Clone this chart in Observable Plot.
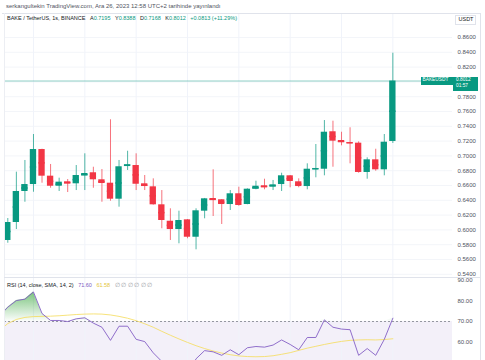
<!DOCTYPE html>
<html><head><meta charset="utf-8">
<script src="https://cdn.jsdelivr.net/npm/d3@7"></script>
<script src="https://cdn.jsdelivr.net/npm/@observablehq/plot@0.6"></script>
<style>
html,body{margin:0;padding:0;background:#fff;width:485px;height:360px;overflow:hidden;font-family:"Liberation Sans",Arial,sans-serif;}
#root{position:relative;width:485px;height:360px;overflow:hidden;}
.t{position:absolute;white-space:nowrap;line-height:1;}
.pane{position:absolute;left:0;}
.row{position:absolute;white-space:nowrap;line-height:1;display:flex;}
.row span{margin-right:4.5px;}
</style></head><body><div id="root"></div>
<script>
// ---- data ----
const opens  = [0.5857,0.6100,0.6519,0.6613,0.7086,0.6726,0.6590,0.6650,0.6623,0.6731,0.6772,0.6677,0.6631,0.6415,0.6866,0.6870,0.6623,0.6582,0.6339,0.6117,0.6005,0.6136,0.5901,0.6253,0.6424,0.6407,0.6343,0.6488,0.6343,0.6550,0.6596,0.6582,0.6613,0.6731,0.6650,0.6586,0.6820,0.6820,0.7326,0.7208,0.7181,0.7172,0.6776,0.6947,0.6812,0.7195];
const highs  = [0.6154,0.6780,0.6938,0.7289,0.7090,0.6884,0.6699,0.6681,0.6870,0.7028,0.6847,0.6816,0.7488,0.6938,0.7063,0.7028,0.6735,0.6690,0.6532,0.6285,0.6253,0.6140,0.6285,0.6425,0.6812,0.6410,0.6532,0.6577,0.6555,0.6658,0.6685,0.6668,0.6766,0.6735,0.6690,0.6893,0.7154,0.7478,0.7469,0.7320,0.7380,0.7190,0.6974,0.7090,0.7289,0.8388];
const lows   = [0.5820,0.6005,0.6374,0.6509,0.6631,0.6563,0.6519,0.6505,0.6532,0.6532,0.6563,0.6374,0.6388,0.6307,0.6803,0.6532,0.6532,0.6335,0.6015,0.5857,0.5812,0.5880,0.5731,0.6150,0.6181,0.6073,0.6262,0.6320,0.6340,0.6542,0.6542,0.6532,0.6519,0.6569,0.6569,0.6542,0.6704,0.6731,0.6847,0.7136,0.6893,0.6766,0.6685,0.6793,0.6731,0.7168];
const closes = [0.6100,0.6519,0.6613,0.7086,0.6726,0.6590,0.6645,0.6623,0.6735,0.6762,0.6677,0.6627,0.6415,0.6853,0.6880,0.6617,0.6586,0.6339,0.6127,0.6005,0.6127,0.5901,0.6258,0.6420,0.6401,0.6343,0.6488,0.6330,0.6550,0.6590,0.6573,0.6609,0.6731,0.6654,0.6586,0.6820,0.6830,0.7320,0.7199,0.7181,0.7172,0.6776,0.6947,0.6812,0.7185,0.8012];
// RSI values: first entry belongs to the bar just before the visible window
const rsiValues = [72.5,77.0,80.2,80.9,84.4,73.9,70.5,70.5,70.0,71.3,71.8,69.2,67.2,60.8,67.7,67.7,61.3,60.2,54.7,50.5,46.5,48.0,43.5,51.8,55.8,55.2,53.5,56.2,53.8,57.2,57.8,57.5,58.5,61.0,58.8,56.2,62.2,62.2,70.8,67.2,66.3,66.0,53.5,56.8,53.5,61.3,71.6];
const rsiMAValues = [65.5,69.0,71.0,72.0,72.4,72.5,72.6,72.8,73.1,73.4,73.6,73.7,73.6,73.2,72.5,71.6,70.4,68.9,67.2,65.2,63.3,61.5,59.8,58.2,56.8,55.6,54.6,53.8,53.2,52.9,52.8,52.9,53.3,54.0,54.8,55.9,57.0,57.9,58.8,59.6,60.3,60.8,61.0,61.1,61.0,61.2,61.58];
const priceTicks = [0.54,0.56,0.58,0.60,0.62,0.64,0.66,0.68,0.70,0.72,0.74,0.76,0.78,0.80,0.82,0.84,0.86];
// 0.8000 is hidden behind the last-price tag in the reference
const priceTickLabels = [0.54,0.56,0.58,0.60,0.62,0.64,0.66,0.68,0.70,0.72,0.74,0.76,0.78,0.82,0.84,0.86];
const rsiTicks = [50,60,70,80,90];
const gridBars = [3,9,15,21,27,33,39,45];

const GREEN = "#089981", RED = "#f23645", PURPLE = "#7e57c2", YELLOW = "#f5dc5a";
const FONT = "Liberation Sans, Arial, sans-serif";
const root = document.getElementById("root");

function txt(s, left, top, size, color) {
  const d = document.createElement("div");
  d.className = "t";
  d.textContent = s;
  d.style.left = left + "px"; d.style.top = top + "px";
  d.style.fontSize = size + "px"; d.style.color = color;
  root.appendChild(d);
  return d;
}
function row(parts, left, top, size) {
  const d = document.createElement("div");
  d.className = "row";
  d.style.left = left + "px"; d.style.top = top + "px"; d.style.fontSize = size + "px";
  parts.forEach(p => {
    const s = document.createElement("span");
    p.forEach(([t, c]) => {
      const q = document.createElement("span");
      q.style.marginRight = "0";
      q.textContent = t; q.style.color = c;
      s.appendChild(q);
    });
    d.appendChild(s);
  });
  root.appendChild(d);
  return d;
}
function box(left, top, w, h, bg, border) {
  const d = document.createElement("div");
  d.style.position = "absolute";
  d.style.left = left + "px"; d.style.top = top + "px";
  d.style.width = w + "px"; d.style.height = h + "px";
  d.style.background = bg;
  if (border) d.style.border = border;
  d.style.boxSizing = "border-box";
  root.appendChild(d);
  return d;
}

const candles = opens.map((o, i) => ({i, o, h: highs[i], l: lows[i], c: closes[i], col: closes[i] >= o ? GREEN : RED}));
const rsiData = rsiValues.map((v, k) => ({i: k - 1, v, ma: rsiMAValues[k]}));
const lastClose = closes[closes.length - 1];

const xScale = {domain: [-0.386, 51.97], range: [4, 452], axis: null};
const HW = 0.37;

// ---- price pane ----
const priceChart = Plot.plot({
  width: 485, height: 264,
  marginLeft: 4, marginRight: 33, marginTop: 0, marginBottom: 0,
  x: xScale,
  y: {domain: [0.54, 0.86], range: [260.8, 24]},
  color: {type: "identity"},
  style: {background: "transparent", fontFamily: FONT, fontSize: "6px", overflow: "visible"},
  marks: [
    Plot.ruleY(priceTicks, {stroke: "#f3f5f9", strokeWidth: 1}),
    Plot.ruleX(gridBars, {stroke: "#f0f3fa", strokeWidth: 1}),
    Plot.ruleY([lastClose], {stroke: GREEN, strokeOpacity: 0.45, strokeWidth: 1}),
    Plot.ruleX(candles, {x: "i", y1: "l", y2: "h", stroke: "col", strokeOpacity: 0.7, strokeWidth: 1}),
    Plot.rect(candles, {x1: d => d.i - HW, x2: d => d.i + HW, y1: "o", y2: "c", fill: "col"}),
    Plot.ruleY(candles, {x1: d => d.i - HW, x2: d => d.i + HW, y: d => (d.o + d.c) / 2, stroke: "col", strokeWidth: 1.5}),
    Plot.axisY({ticks: priceTickLabels, anchor: "right", tickSize: 0, tickPadding: 5, tickFormat: d3.format(".4f"), label: null, fill: "#50535e", fontSize: 6, textAnchor: "start"})
  ]
});
priceChart.classList.add("pane");
priceChart.style.top = "13px";
root.appendChild(priceChart);

// ---- RSI pane ----
const rsiChart = Plot.plot({
  width: 485, height: 90,
  marginLeft: 4, marginRight: 33, marginTop: 0, marginBottom: 0,
  x: xScale,
  y: {domain: [50, 90], range: [85, 3]},
  style: {background: "transparent", fontFamily: FONT, fontSize: "6px", overflow: "visible"},
  marks: [
    () => {
      const svg = d3.create("svg:g");
      const g = svg.append("defs").append("linearGradient").attr("id", "obGrad").attr("x1", 0).attr("y1", 0).attr("x2", 0).attr("y2", 1);
      g.append("stop").attr("offset", "0%").attr("stop-color", "#4caf50").attr("stop-opacity", 0.75);
      g.append("stop").attr("offset", "100%").attr("stop-color", "#4caf50").attr("stop-opacity", 0.02);
      return svg.node();
    },
    Plot.rect([0], {x1: -0.386, x2: 51.97, y1: 30, y2: 70, fill: PURPLE, fillOpacity: 0.09}),
    Plot.ruleX(gridBars, {stroke: "#f0f3fa", strokeWidth: 1}),
    Plot.areaY(rsiData, {x: "i", y1: 70, y2: d => Math.max(70, d.v), fill: "url(#obGrad)", clip: true}),
    Plot.ruleY([70], {stroke: "#9598a1", strokeDasharray: "2,2", strokeWidth: 1}),
    Plot.line(rsiData, {x: "i", y: "ma", stroke: YELLOW, strokeWidth: 1, strokeOpacity: 0.8, clip: true}),
    Plot.line(rsiData, {x: "i", y: "v", stroke: PURPLE, strokeWidth: 1, strokeOpacity: 0.85, clip: true}),
    Plot.axisY({ticks: rsiTicks, anchor: "right", tickSize: 0, tickPadding: 5, tickFormat: d3.format(".2f"), label: null, fill: "#50535e", fontSize: 6, textAnchor: "start"})
  ]
});
rsiChart.classList.add("pane");
rsiChart.style.top = "277px";
root.appendChild(rsiChart);

// ---- frame lines ----
box(2, 12.5, 478, 1, "#e0e3eb");      // top border
box(4, 13, 1, 347, "#eceef3");        // left border
box(480, 13, 1, 347, "#e0e3eb");      // right border
box(4, 277, 476, 1, "#e0e3eb");       // pane separator

// ---- header texts ----
txt("serkangultekin TradingView.com, Ara 26, 2023 12:58 UTC+2 tarihinde yayınlandı", 6, 3, 6, "#50535e");
row([
  [["BAKE / TetherUS, 1s, BINANCE", "#131722"]],
  [["A", "#131722"], ["0.7195", GREEN]],
  [["Y", "#131722"], ["0.8388", GREEN]],
  [["D", "#131722"], ["0.7168", GREEN]],
  [["K", "#131722"], ["0.8012", GREEN]],
  [["+0.0813 (+11.29%)", GREEN]]
], 7, 16, 5.5);

// USDT box
box(455, 14.5, 21, 10, "#fff", "1px solid #e0e3eb");
txt("USDT", 458.5, 17.2, 5.5, "#131722");

// price tag
const yLast = priceChart.scale("y").apply(lastClose) + 13;
box(421, yLast - 3.5, 32, 7.5, GREEN);
box(452.5, yLast - 3.5, 25.5, 14, GREEN);
txt("BAKEUSDT", 422.5, yLast - 2.3, 4.8, "#fff");
txt("0.8012", 456, yLast - 2.3, 4.8, "#fff");
txt("01:57", 456, yLast + 3.8, 4.8, "#fff");

// RSI legend
row([
  [["RSI (14, close, SMA, 14, 2)", "#131722"]],
  [["71.60", PURPLE]],
  [["61.58", "#e3c53c"]],
  [["∅ ∅ ∅ ∅ ∅ ∅", "#9598a1"]]
], 7, 283, 5.5);
</script>
</body></html>
